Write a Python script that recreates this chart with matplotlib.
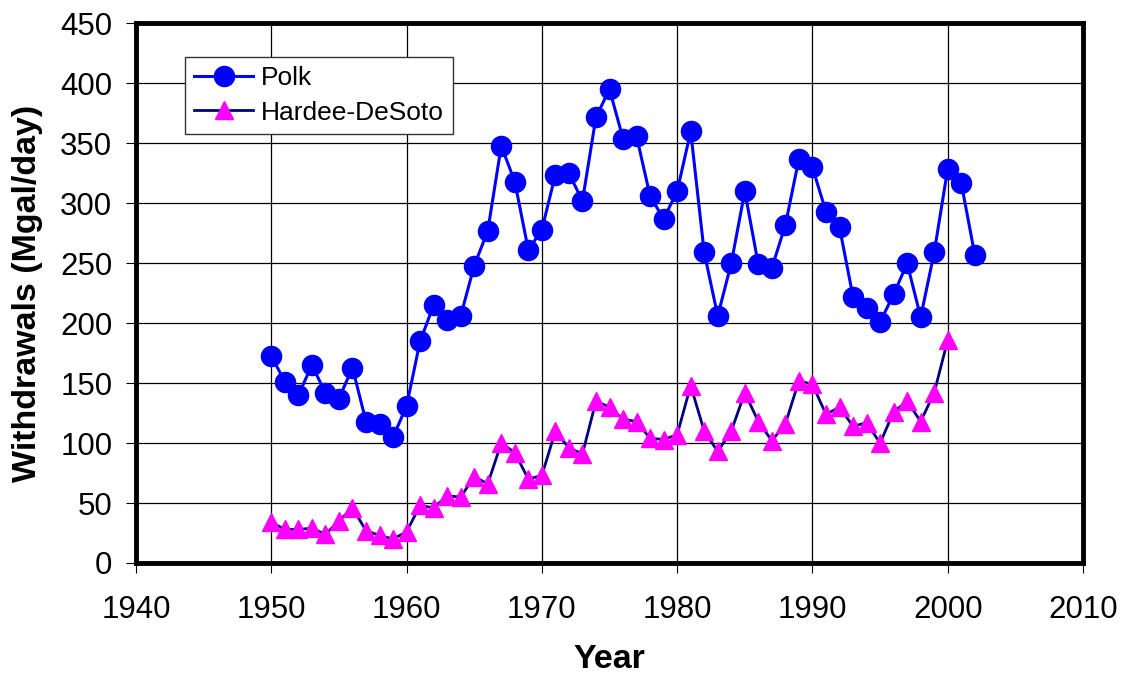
import matplotlib
matplotlib.use("Agg")
import matplotlib.pyplot as plt

plt.rcParams['font.family'] = ['Liberation Sans', 'DejaVu Sans']

# ---- data ----
years_polk = list(range(1950, 2003))
polk = [173, 151, 140, 165, 142, 137, 163, 118, 116, 105,
        131, 185, 215, 203, 206, 248, 277, 348, 318, 261,
        278, 324, 325, 302, 372, 395, 354, 356, 306, 287,
        310, 360, 259, 206, 250, 310, 249, 246, 282, 337,
        330, 293, 280, 222, 213, 201, 224, 250, 205, 259,
        329, 317, 257]

years_hd = list(range(1950, 2001))
hardee = [34, 28, 28, 29, 24, 35, 46, 27, 23, 20,
          26, 48, 46, 56, 55, 72, 66, 100, 92, 70,
          73, 110, 96, 91, 135, 130, 120, 118, 104, 103,
          107, 148, 110, 93, 110, 142, 118, 102, 116, 152,
          149, 124, 130, 114, 117, 100, 126, 135, 118, 142,
          186]

x_ticks = [1940, 1950, 1960, 1970, 1980, 1990, 2000, 2010]
y_ticks = [0, 50, 100, 150, 200, 250, 300, 350, 400, 450]

fig = plt.figure(figsize=(11.23, 6.77), dpi=100)
ax = fig.add_axes([0.1211, 0.1684, 0.8433, 0.7969])

ax.plot(years_polk, polk, color="#0000FF", lw=2.2, marker="o",
        markersize=14.5, markerfacecolor="#0000FF", markeredgecolor="#0000FF",
        label="Polk", zorder=3)
ax.plot(years_hd, hardee, color="#000080", lw=2.0, marker="^",
        markersize=13, markerfacecolor="#FF00FF", markeredgecolor="#FF00FF",
        label="Hardee-DeSoto", zorder=3)

ax.set_xlim(1940, 2010)
ax.set_ylim(0, 450)
ax.set_xticks(x_ticks)
ax.set_yticks(y_ticks)
ax.grid(True, color="black", lw=0.9)
ax.set_axisbelow(True)

for sp in ax.spines.values():
    sp.set_linewidth(3.5)
    sp.set_color("black")

ax.tick_params(axis="both", direction="out", length=7, width=0.8,
               labelsize=22.5)
ax.tick_params(axis="y", pad=10)
ax.tick_params(axis="x", pad=16)

ax.set_xlabel("Year", fontsize=24.5, fontweight="bold", labelpad=14)
ax.set_ylabel("Withdrawals (Mgal/day)", fontsize=24.5, fontweight="bold", labelpad=12)

leg = ax.legend(loc="upper left", bbox_to_anchor=(0.052, 0.938),
                fontsize=19, frameon=True, fancybox=False,
                borderpad=0.35, handlelength=2.2, labelspacing=0.4,
                handletextpad=0.3, borderaxespad=0)
leg.get_frame().set_edgecolor("#333333")
leg.get_frame().set_linewidth(1.0)
leg.get_frame().set_alpha(1.0)

fig.savefig("out.png", dpi=100)
